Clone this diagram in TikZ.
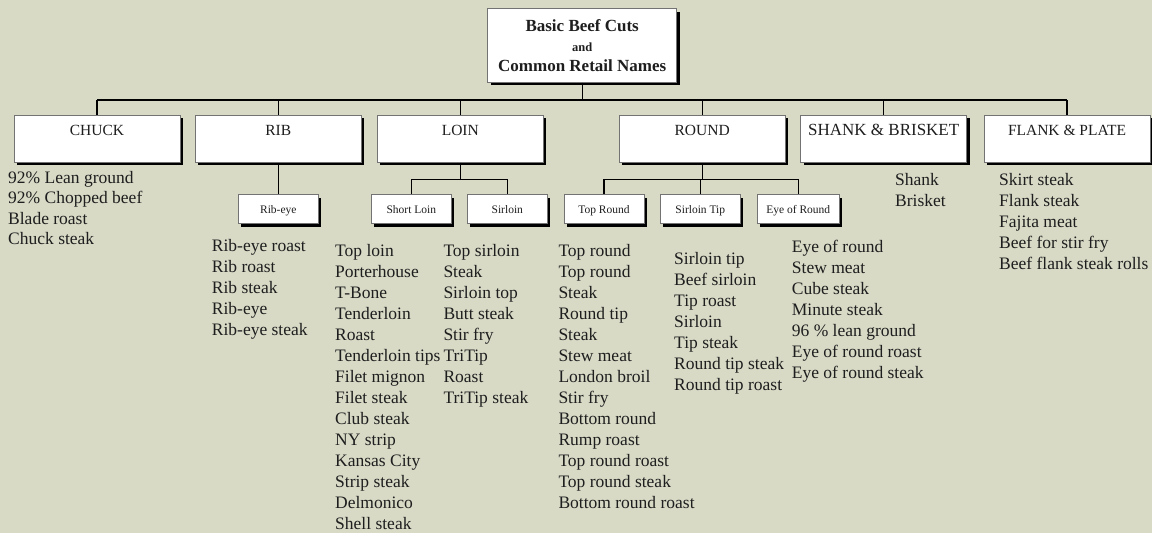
\documentclass[tikz,border=0pt]{standalone}
\usepackage{fontspec}
\setmainfont{Liberation Serif}
\usetikzlibrary{shadows}
\definecolor{bg}{RGB}{216,218,198}
\definecolor{ink}{RGB}{30,30,30}
\begin{document}
\begin{tikzpicture}[x=1pt,y=-1pt,
  box/.style={draw=black!55, line width=0.8pt, fill=white, inner xsep=0pt, inner ysep=0pt, text=ink,
    drop shadow={shadow xshift=3pt, shadow yshift=-3pt, fill=black, opacity=1}},
  cut/.style={box, anchor=north, minimum width=166pt, text height=20.5pt, text depth=26.5pt, font=\fontsize{15.5}{18}\selectfont},
  sub/.style={box, anchor=north, minimum width=80pt, text height=18.5pt, text depth=10.5pt, font=\fontsize{11.5}{14}\selectfont},
  list/.style={anchor=north west, inner sep=0pt, align=left, text=ink, font=\fontsize{17.5}{21}\selectfont},
  link/.style={line width=1.2pt}]
\fill[bg] (0,0) rectangle (1152,533);
\useasboundingbox (0,0) rectangle (1152,533);

\node[box, minimum width=189pt, minimum height=73.4pt, align=center, font=\fontsize{17}{20}\selectfont\bfseries] (title) at (582.2,45.5)
  {Basic Beef Cuts\\{\fontsize{12.5}{20}\selectfont and}\\Common Retail Names};

\coordinate (bus) at (0,100);
\coordinate (lbus) at (0,179.3);

\node[cut] (chuck) at (97,115) {CHUCK};
\node[cut] (rib) at (278.3,115) {RIB};
\node[cut] (loin) at (460.3,115) {LOIN};
\node[cut] (round) at (702.2,115) {ROUND};
\node[cut, font=\fontsize{17}{20}\selectfont] (shank) at (883.7,115) {SHANK \& BRISKET};
\node[cut] (flank) at (1067,115) {FLANK \& PLATE};

\node[sub] (ribeye) at (278.3,194.3) {Rib-eye};
\node[sub] (shortloin) at (411.3,194.3) {Short Loin};
\node[sub] (sirloin) at (507.3,194.3) {Sirloin};
\node[sub] (topround) at (604,194.3) {Top Round};
\node[sub] (sirlointip) at (700.3,194.3) {Sirloin Tip};
\node[sub, minimum width=82pt] (eyeround) at (798.3,194.3) {Eye of Round};

% connectors
\draw[link] (title.south) -- (title.south |- bus);
\draw[link] (chuck.north |- bus) -- (flank.north |- bus);
\foreach \n in {chuck,rib,loin,round,shank,flank}
  \draw[link] (\n.north |- bus) -- (\n.north);
\draw[link] (rib.south) -- (ribeye.north);
\draw[link] (loin.south) -- (loin.south |- lbus);
\draw[link] (shortloin.north) |- (sirloin.north |- lbus) -- (sirloin.north);
\draw[link] (round.south) -- (round.south |- lbus);
\draw[link] (topround.north) |- (eyeround.north |- lbus) -- (eyeround.north);
\draw[link] (sirlointip.north) -- (sirlointip.north |- lbus);

% lists
\node[list, font=\fontsize{17.5}{20.5}\selectfont] (chucklist) at (8,171)
  {92\% Lean ground\\92\% Chopped beef\\Blade roast\\Chuck steak};
\node[list] (riblist) at (211.7,238.7)
  {Rib-eye roast\\Rib roast\\Rib steak\\Rib-eye\\Rib-eye steak};
\node[list] (shortloinlist) at (335,244.4)
  {Top loin\\Porterhouse\\T-Bone\\Tenderloin\\Roast\\Tenderloin tips\\Filet mignon\\Filet steak\\Club steak\\NY strip\\Kansas City\\Strip steak\\Delmonico\\Shell steak};
\node[list] (sirloinlist) at (443.3,244.4)
  {Top sirloin\\Steak\\Sirloin top\\Butt steak\\Stir fry\\TriTip\\Roast\\TriTip steak};
\node[list] (toproundlist) at (558.3,244.4)
  {Top round\\Top round\\Steak\\Round tip\\Steak\\Stew meat\\London broil\\Stir fry\\Bottom round\\Rump roast\\Top round roast\\Top round steak\\Bottom round roast};
\node[list] (sirlointiplist) at (674,251.7)
  {Sirloin tip\\Beef sirloin\\Tip roast\\Sirloin\\Tip steak\\Round tip steak\\Round tip roast};
\node[list] (eyeroundlist) at (791.7,240.4)
  {Eye of round\\Stew meat\\Cube steak\\Minute steak\\96 \% lean ground\\Eye of round roast\\Eye of round steak};
\node[list] (shanklist) at (895,173.4)
  {Shank\\Brisket};
\node[list] (flanklist) at (999,173.4)
  {Skirt steak\\Flank steak\\Fajita meat\\Beef for stir fry\\Beef flank steak rolls};
\end{tikzpicture}
\end{document}
